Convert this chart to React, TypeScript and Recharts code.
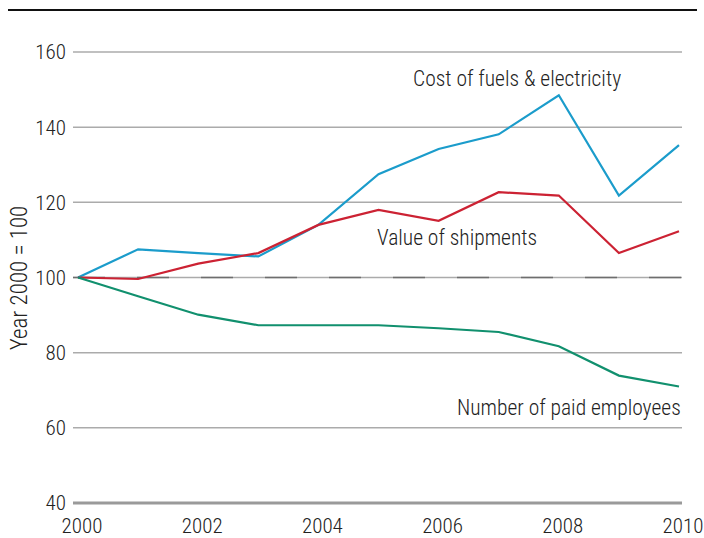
import { LineChart, Line, XAxis, YAxis, CartesianGrid, ReferenceLine, Customized } from "recharts";

const years = [2000, 2001, 2002, 2003, 2004, 2005, 2006, 2007, 2008, 2009, 2010];
const fuelCost = [100, 107.5, 106.5, 105.6, 114, 127.5, 134.2, 138.1, 148.5, 121.8, 135.2];
const shipments = [100, 99.6, 103.7, 106.5, 114, 118, 115.1, 122.7, 121.8, 106.5, 112.3];
const employees = [100, 95, 90.1, 87.3, 87.3, 87.3, 86.5, 85.5, 81.7, 73.9, 71];
const xTicks = [2000, 2002, 2004, 2006, 2008, 2010];
const yTicks = [40, 60, 80, 100, 120, 140, 160];

const FONT = "'Roboto Condensed', 'Liberation Sans Narrow', Roboto, sans-serif";

const data = years.map((year, i) => ({
  year,
  fuel: fuelCost[i],
  ship: shipments[i],
  emp: employees[i],
}));

const Notes = () => (
  <g fontFamily={FONT} fontSize={21.5} fontWeight={300} fill="#222">
    <line x1={8} x2={697} y1={10} y2={10} stroke="#111" strokeWidth={2} />
    <text x={413} y={86}>Cost of fuels &amp; electricity</text>
    <text x={377} y={245}>Value of shipments</text>
    <text x={457} y={415}>Number of paid employees</text>
    <text x={27} y={278} fontSize={23} textAnchor="middle" transform="rotate(-90 27 278)">
      Year 2000 = 100
    </text>
  </g>
);

const tickStyle = { fill: "#222", fontSize: 21, fontFamily: FONT, fontWeight: 300 };

export default function App() {
  return (
    <div style={{ position: "absolute", left: 0, top: 0, background: "#fff" }}>
      <LineChart
        width={704}
        height={538}
        data={data}
        margin={{ top: 52, right: 22, bottom: 5, left: 13 }}
      >
        <CartesianGrid vertical={false} stroke="#ababab" strokeWidth={1.5} />
        <XAxis
          dataKey="year"
          type="number"
          domain={[2000, 2010]}
          ticks={xTicks}
          padding={{ left: 5, right: 3 }}
          height={30}
          tickSize={0}
          tickMargin={15}
          axisLine={{ stroke: "#9a9a9a", strokeWidth: 3 }}
          tick={{ ...tickStyle, dx: 4 }}
        />
        <YAxis
          type="number"
          domain={[40, 160]}
          ticks={yTicks}
          width={60}
          tickSize={0}
          tickMargin={7}
          axisLine={false}
          tick={tickStyle}
        />
        <ReferenceLine y={100} stroke="#6e6e6e" strokeWidth={1.5} strokeDasharray="32 32" />
        <Line dataKey="fuel" stroke="#1b9ccb" strokeWidth={2.2} dot={false} isAnimationActive={false} />
        <Line dataKey="ship" stroke="#cc2233" strokeWidth={2.2} dot={false} isAnimationActive={false} />
        <Line dataKey="emp" stroke="#11906e" strokeWidth={2.2} dot={false} isAnimationActive={false} />
        <Customized component={Notes} />
      </LineChart>
    </div>
  );
}
